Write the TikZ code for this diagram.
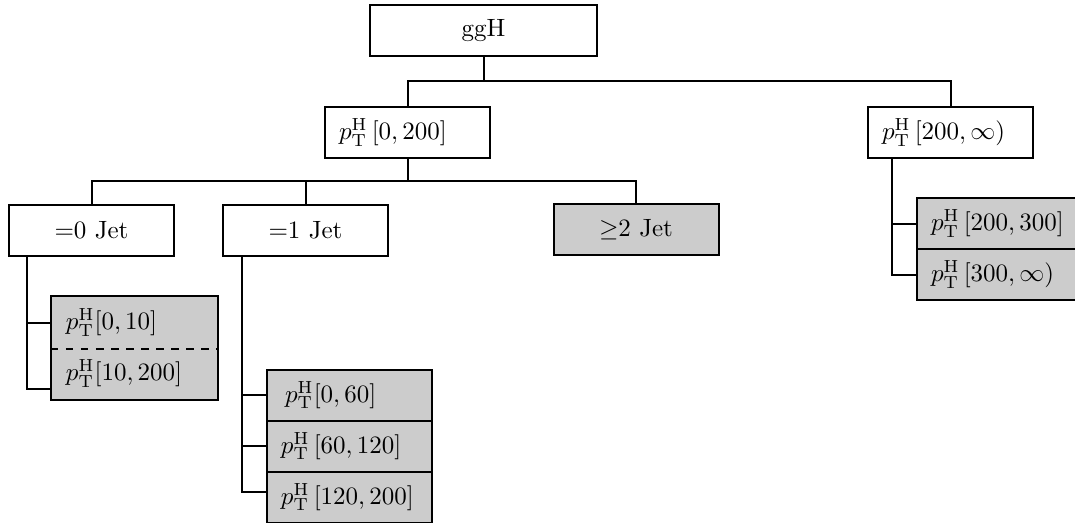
\documentclass[tikz,border=0pt]{standalone}
\usepackage{amsmath}
\usepackage{amssymb}
\usepackage{tikz}

\tikzset{
  cbox/.style={draw, thick, minimum height=20.4pt, minimum width=66pt, inner sep=0pt, align=center},
  lbox/.style={thick, minimum height=20.4pt, inner xsep=5.6pt, inner ysep=0pt, text width=54.8pt, align=left},
  leaf/.style={lbox, fill=gray!40},
}
\newcommand{\pth}{p_{\mathrm{T}}^{\mathrm{H}}}

\begin{document}
\begin{tikzpicture}[x=0.4pt,y=0.4pt,yscale=-1,xscale=1,thick]
\useasboundingbox (0,0) rectangle (1075,522);

% Top Node
\node [cbox, minimum width=90.8pt] (ggH) at (483.5,30.5) {ggH};
% pT Nodes
\node [lbox, draw] (pt0) at (407.5,132.5) {$\pth\,[0,200]$};
\node [lbox, draw] (ptI) at (950.5,132.5) {$\pth\,[200,\infty)$};
% Jet Nodes
\node [cbox] (jet0) at (91.5,230) {$=$0 Jet};
\node [cbox] (jet1) at (305.5,230) {$=$1 Jet};
\node [cbox, fill=gray!40] (jet2) at (636,229.5) {$\geq$2 Jet};

% Leaves, =0 Jet
\node [leaf] (jz0) at (134.5,322.5) {$\pth[0,10]$};
\node [leaf] (jz1) at (134.5,373.5) {$\pth[10,200]$};
\draw (jz0.north west) rectangle (jz1.south east);
\draw [dashed] (jz0.south west) -- (jz0.south east);
% Leaves, =1 Jet
\node [leaf, draw] (jo0) at (349.5,395) {\,$\pth[0,60]$};
\node [leaf, draw] (jo1) at (349.5,446) {$\pth\,[60,120]$};
\node [leaf, draw] (jo2) at (349.5,497) {$\pth\,[120,200]$};
% Leaves, pT > 200
\node [leaf, draw] (hi0) at (999.5,223.5) {$\pth\,[200,300]$};
\node [leaf, draw] (hi1) at (999.5,274.5) {$\pth\,[300,\infty)$};

% Lines
\draw (ggH.south) -- ++(0,24) -| (pt0.north);
\draw (ggH.south) -- ++(0,24) -| (ptI.north);
\draw (pt0.south) -- ++(0,22) -| (jet0.north);
\draw (pt0.south) -- ++(0,22) -| (jet1.north);
\draw (pt0.south) -- ++(0,22) -| (jet2.north);

\draw ([xshift=7.6pt]jet0.south west) |- (jz0.west);
\draw ([xshift=7.6pt]jet0.south west) |- ([yshift=6pt]jz1.west);

\draw ([xshift=8pt]jet1.south west) |- (jo0.west);
\draw ([xshift=8pt]jet1.south west) |- (jo1.west);
\draw ([xshift=8pt]jet1.south west) |- ([yshift=-2pt]jo2.west);

\draw ([xshift=10pt]ptI.south west) |- (hi0.west);
\draw ([xshift=10pt]ptI.south west) |- (hi1.west);

\end{tikzpicture}
\end{document}
